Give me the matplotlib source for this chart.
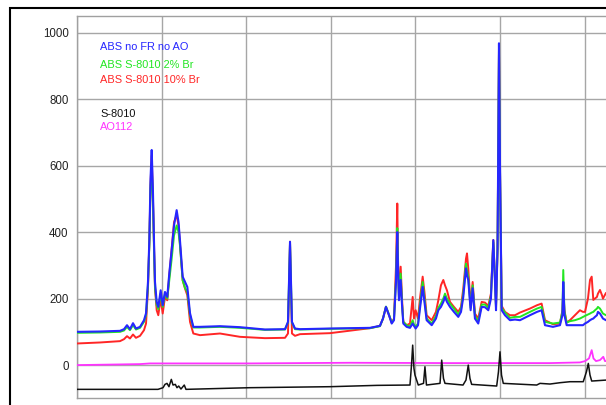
import matplotlib
matplotlib.use("Agg")
import matplotlib.pyplot as plt
from matplotlib.patches import Rectangle
from matplotlib.ticker import MultipleLocator

plt.rcParams['font.family'] = ['Liberation Sans', 'DejaVu Sans']

# ---- data (x in arbitrary units, 100 per vertical grid division) ----
x_abs = [0, 27.2, 50.8, 55.6, 59.1, 62.6, 66.2, 69.7, 74.5, 79.2,
         81.6, 83.9, 85.5, 86.9, 88.3, 89.8, 91.0, 92.2, 94.2, 96.1,
         98.9, 101.3, 104.0, 106.7, 109.1, 111.9, 114.7, 117.8, 120.0, 121.7,
         124.9, 127.7, 130.4, 133.6, 137.5, 145.4, 169.0, 192.7, 222.2, 245.9,
         249.4, 251.8, 254.1, 257.7, 263.6, 299.0, 346.3, 358.1, 361.7, 365.2,
         368.8, 372.0, 374.7, 377.1, 378.6, 379.4, 380.6, 382.6, 384.2, 385.7,
         389.7, 393.6, 396.8, 398.3, 400.3, 403.1, 405.4, 408.6, 410.7, 413.3,
         419.3, 424.3, 427.1, 430.2, 433.0, 435.0, 437.3, 440.9, 445.6, 450.7,
         453.9, 456.6, 459.8, 461.0, 462.5, 465.3, 467.7, 470.4, 474.3, 478.3,
         482.3, 486.2, 489.3, 492.1, 494.1, 495.3, 497.1, 498.8, 500.0, 502.0,
         505.9, 511.8, 517.7, 523.6, 535.4, 543.7, 549.2, 553.2, 562.6, 570.9,
         573.8, 574.8, 576.2, 578.8, 582.7, 588.6, 594.5, 598.1, 600.5, 604.0,
         606.4, 608.4, 610.3, 612.3, 614.6, 615.8, 618.2, 620.6, 621.7, 625.3,
         632.4, 660]

abs_no_fr = [100, 101, 103, 108, 120, 108, 126, 110, 115, 135,
             156, 250, 376, 560, 647, 520, 376, 250, 190, 175,
             225, 180, 220, 205, 276, 346, 420, 466, 430, 376,
             266, 250, 235, 156, 115, 115, 117, 114, 107, 108,
             130, 371, 130, 110, 108, 110, 112, 118, 140, 175,
             150, 125, 135, 250, 400, 300, 195, 256, 180, 125,
             115, 112, 125, 118, 110, 120, 170, 235, 190, 135,
             120, 140, 165, 175, 190, 205, 190, 175, 160, 145,
             160, 205, 291, 270, 256, 165, 231, 140, 125, 175,
             174, 165, 200, 376, 250, 165, 350, 968, 600, 165,
             150, 135, 137, 135, 150, 160, 165, 120, 115, 120,
             150, 250, 150, 120, 120, 120, 120, 120, 125, 130,
             135, 138, 140, 145, 150, 160, 155, 145, 140, 135,
             135, 135]

abs_2br = [97, 98, 100, 104, 115, 105, 120, 107, 112, 130,
           150, 240, 360, 530, 600, 490, 350, 235, 180, 168,
           215, 175, 215, 200, 255, 320, 390, 420, 400, 360,
           255, 232, 220, 150, 113, 113, 115, 112, 106, 107,
           128, 368, 128, 108, 107, 109, 111, 117, 140, 176,
           152, 128, 138, 260, 412, 310, 200, 275, 185, 130,
           120, 116, 135, 122, 115, 125, 180, 250, 200, 140,
           125, 148, 172, 185, 200, 215, 200, 185, 170, 152,
           168, 215, 305, 285, 265, 172, 240, 148, 132, 182,
           182, 172, 208, 370, 255, 172, 350, 950, 590, 172,
           158, 142, 145, 145, 160, 170, 175, 130, 125, 128,
           160, 286, 160, 128, 132, 135, 140, 145, 148, 152,
           155, 158, 160, 165, 170, 175, 170, 160, 155, 150,
           150, 150]

abs_10br = [65, 68, 72, 78, 87, 80, 92, 82, 88, 105,
            125, 230, 370, 540, 630, 500, 360, 230, 165, 150,
            200, 155, 205, 195, 270, 350, 430, 451, 420, 365,
            255, 230, 210, 130, 95, 90, 95, 85, 81, 82,
            95, 371, 95, 88, 93, 96, 111, 118, 140, 175,
            150, 128, 140, 300, 486, 330, 200, 296, 200, 130,
            120, 125, 205, 140, 165, 140, 200, 266, 220, 150,
            135, 160, 195, 240, 256, 240, 225, 190, 175, 160,
            175, 230, 320, 336, 290, 180, 250, 155, 140, 190,
            188, 178, 215, 376, 260, 178, 350, 950, 590, 178,
            160, 150, 150, 158, 170, 180, 185, 135, 123, 125,
            165, 220, 165, 128, 135, 150, 165, 160, 160, 200,
            256, 266, 196, 200, 205, 215, 226, 210, 200, 217,
            210, 215]

x_s8010 = [0, 95.7, 101.7, 104.0, 106.4, 108.7, 111.5, 113.5, 116.2, 118.2,
           120.2, 122.9, 126.8, 128.8, 204.5, 299.0, 354.6, 393.6, 395.4, 396.8,
           398.3, 399.5, 403.4, 409.6, 411.3, 413.1, 429.1, 431.1, 433.2, 435.0,
           456.3, 459.8, 462.5, 464.5, 466.5, 496.1, 498.2, 500.0, 501.8, 503.9,
           543.4, 547.3, 559.1, 570.9, 582.7, 598.4, 602.2, 604.4, 606.4, 608.4,
           626.1, 665.5]
s8010 = [-73, -73, -68, -58, -55, -65, -43, -60, -58, -68,
         -63, -72, -60, -73, -68, -65, -61, -60, 0, 60,
         -10, -30, -60, -55, -5, -60, -55, 15, -40, -55,
         -60, -45, 0, -40, -58, -63, -20, 40, -30, -55,
         -60, -55, -57, -53, -50, -50, -20, 5, -30, -48,
         -45, -45]

x_ao112 = [0, 50.8, 74.5, 86.3, 204.5, 322.7, 440.9, 559.1, 594.5, 600.5,
           605.2, 608.4, 610.5, 613.5, 618.2, 622.1, 624.1, 665.5]
ao112 = [0, 2, 3, 5, 5, 7, 6, 6, 8, 12,
         20, 45, 20, 12, 15, 25, 12, 12]

y_ticks = [0, 200, 400, 600, 800, 1000]
series_labels = ["ABS no FR no AO", "ABS S-8010 2% Br", "ABS S-8010 10% Br",
                 "S-8010", "AO112"]
series_colors = ["#2626ff", "#22e622", "#ff2626", "#111111", "#ff33ff"]

# ---- figure ----
W, H = 606, 405
fig = plt.figure(figsize=(W / 100, H / 100), dpi=100)
left, right, top, bottom = 77, 640, 16, 398
ax = fig.add_axes([left / W, 1 - bottom / H, (right - left) / W, (bottom - top) / H])

ax.plot(x_abs, abs_10br, color=series_colors[2], lw=1.4, zorder=3)
ax.plot(x_abs, abs_2br, color=series_colors[1], lw=1.4, zorder=4)
ax.plot(x_abs, abs_no_fr, color=series_colors[0], lw=1.5, zorder=5)
ax.plot(x_ao112, ao112, color=series_colors[4], lw=1.3, zorder=3)
ax.plot(x_s8010, s8010, color=series_colors[3], lw=1.1, zorder=3)

ax.set_xlim(0, 665.5)
ax.set_ylim(-99, 1050)
ax.set_yticks(y_ticks)
ax.xaxis.set_major_locator(MultipleLocator(100))
ax.tick_params(axis='x', length=0, labelbottom=False)
ax.tick_params(axis='y', length=0, pad=6, labelsize=8.3, labelcolor='#222222')
ax.grid(True, color='#a6a6a6', lw=1.0)
ax.set_axisbelow(True)
for s in ax.spines.values():
    s.set_color('#a0a0a0')
    s.set_linewidth(1.0)

# legend-like labels
label_y = [47, 65, 80, 114, 127]
for lab, col, py in zip(series_labels, series_colors, label_y):
    fig.text(100 / W, 1 - py / H, lab, color=col, fontsize=7.9, va='center', ha='left')

# outer frame
fig.patches.append(Rectangle((10 / W, -0.2), 1.5, 1.2 - 7.5 / H,
                             transform=fig.transFigure, fill=False,
                             edgecolor='black', lw=1.5, zorder=0))

fig.savefig("out.png", dpi=100)
